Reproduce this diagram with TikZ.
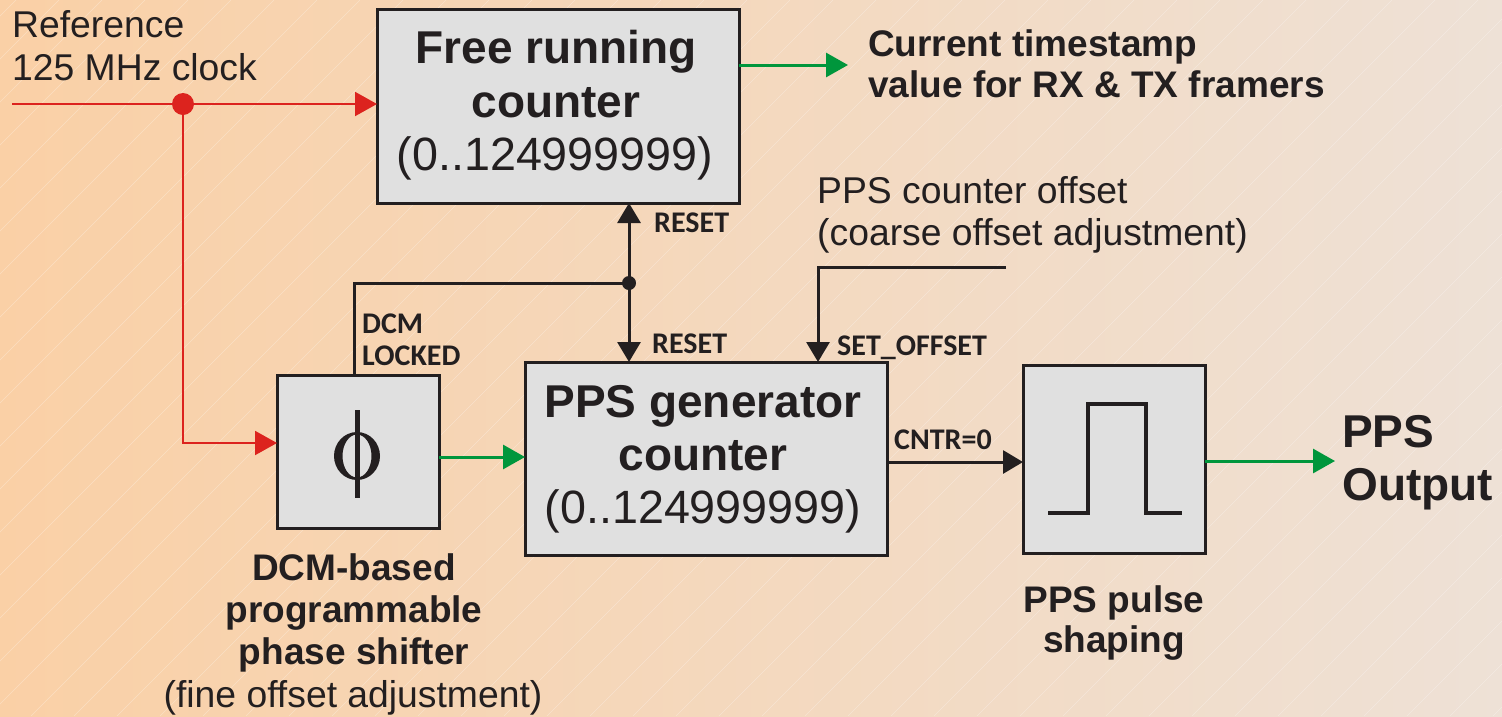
\documentclass[tikz,border=0pt]{standalone}
\usepackage{fontspec}
\setmainfont{Liberation Sans}
\newfontfamily\lblfont{Carlito}
\usetikzlibrary{arrows.meta}
\definecolor{bgL}{RGB}{250,208,166}
\definecolor{bgR}{RGB}{238,225,214}
\definecolor{ink}{RGB}{35,31,32}
\definecolor{sigred}{RGB}{220,35,30}
\definecolor{siggreen}{RGB}{0,150,60}
\definecolor{boxgray}{RGB}{224,224,224}
\begin{document}
\begin{tikzpicture}[x=1pt,y=-1pt,
 box/.style={draw=ink, line width=3pt, fill=boxgray, inner sep=0pt, outer sep=0pt},
 bigbold/.style={font=\fontsize{46}{54}\selectfont\bfseries, text=ink, inner sep=0pt, anchor=base},
 bignum/.style={font=\fontsize{46.7}{54}\selectfont, text=ink, inner sep=0pt, anchor=base},
 captxt/.style={font=\fontsize{37}{42}\selectfont\bfseries, text=ink, inner sep=0pt},
 plaintxt/.style={font=\fontsize{37.3}{42}\selectfont, text=ink, inner sep=0pt},
 outtxt/.style={font=\fontsize{46}{54}\selectfont\bfseries, text=ink, inner sep=0pt, anchor=base west},
 sig/.style={font=\lblfont\bfseries\fontsize{30}{32}\selectfont, text=ink, inner sep=0pt, anchor=base west},
 redw/.style={draw=sigred, line width=2pt},
 redarr/.style={redw, -{Triangle[length=22pt,width=24pt]}},
 grnarr/.style={draw=siggreen, line width=3pt, -{Triangle[length=22pt,width=24pt]}},
 blkw/.style={draw=ink, line width=3pt},
 blkarr/.style={blkw, -{Triangle[length=20pt,width=23pt]}},
]
% background
\shade[left color=bgL, right color=bgR] (0,0) rectangle (1502,716);
\useasboundingbox (0,0) rectangle (1502,716);
\begin{scope}
\clip (0,0) rectangle (1502,716);
\foreach \i in {-700,-657,...,1500}
  \draw[white, opacity=0.3, line width=0.6pt] (\i,716) -- ++(716,-716);
\end{scope}

% boxes
\node[box, minimum width=362pt, minimum height=194pt] (free) at (558,106) {};
\node[box, minimum width=162pt, minimum height=153pt] (phi) at (358,451.5) {};
\node[box, minimum width=362pt, minimum height=193pt] (gen) at (706,458.5) {};
\node[box, minimum width=182pt, minimum height=188pt] (pulse) at (1114,459) {};

% phi glyph
\fill[ink, even odd rule] (357,456) ellipse [x radius=23pt, y radius=24pt]
                          (357,456) ellipse [x radius=14.5pt, y radius=21.5pt];
\fill[ink] (354.5,410) rectangle (359.5,498);

% pulse glyph
\draw[ink, line width=4.5pt] (1048,513) -- (1088,513) -- (1088,404) -- (1146,404) -- (1146,513) -- (1182,513);

% box texts
\node[bigbold] (free1) at (556,63) {Free running};
\node[bigbold] (free2) at (556,117) {counter};
\node[bignum] (free3) at (555,170) {(0..124999999)};
\node[bigbold] (gen1) at (703,417) {PPS generator};
\node[bigbold] (gen2) at (703,470) {counter};
\node[bignum] (gen3) at (703,523) {(0..124999999)};

% red clock
\coordinate (start) at (12,104);
\node[circle, fill=sigred, minimum size=22pt, inner sep=0pt] (rdot) at (183,104) {};
\draw[redw] (start) -- (rdot.center);
\draw[redarr] (rdot.center) -- (rdot.center -| free.west);
\coordinate (rcorner) at (183,443);
\draw[redarr] (rdot.center) -- (rcorner) -- (rcorner -| phi.west);

% reset net
\node[circle, fill=ink, minimum size=14pt, inner sep=0pt] (jn) at (629,283) {};
\draw[blkarr] (jn.center) -- (jn.center |- free.south);
\draw[blkarr] (jn.center) -- (jn.center |- gen.north);
\coordinate (lk) at (354,283);
\draw[blkw] (jn.center) -- (lk) -- (lk |- phi.north);

% set offset
\coordinate (so1) at (1006,267);
\coordinate (so2) at (818,267);
\draw[blkarr] (so1) -- (so2) -- (so2 |- gen.north);

% cntr=0
\coordinate (cy) at (950,462);
\draw[blkarr] (gen.east |- cy) -- (pulse.west |- cy);

% green arrows
\coordinate (tsEnd) at (848,65);
\draw[grnarr] (free.east |- tsEnd) -- (tsEnd);
\coordinate (py) at (480,457);
\draw[grnarr] (phi.east |- py) -- (gen.west |- py);
\coordinate (outEnd) at (1335,461);
\draw[grnarr] (pulse.east |- outEnd) -- (outEnd);

% texts
\node[plaintxt, anchor=base west] (ref1) at (12,37) {Reference};
\node[plaintxt, anchor=base west] (ref2) at (12,80) {125 MHz clock};
\node[captxt, anchor=base west] (ts1) at (868,56) {Current timestamp};
\node[captxt, anchor=base west] (ts2) at (868,97) {value for RX \& TX framers};
\node[plaintxt, anchor=base west] (off1) at (817,203) {PPS counter offset};
\node[plaintxt, anchor=base west] (off2) at (817,245) {(coarse offset adjustment)};
\node[captxt, anchor=base] (dcm1) at (354,580) {DCM-based};
\node[captxt, anchor=base] (dcm2) at (354,622) {programmable};
\node[captxt, anchor=base] (dcm3) at (354,664) {phase shifter};
\node[plaintxt, anchor=base] (dcm4) at (353,707) {(fine offset adjustment)};
\node[captxt, anchor=base] (ps1) at (1114,612) {PPS pulse};
\node[captxt, anchor=base] (ps2) at (1114,652) {shaping};
\node[outtxt] (out1) at (1342,447) {PPS};
\node[outtxt] (out2) at (1342,500) {Output};

% signal labels
\node[sig] (rs1) at (654,232) {RESET};
\node[sig] (rs2) at (652,353) {RESET};
\node[sig] (lk1) at (362,333) {DCM};
\node[sig] (lk2) at (362,365) {LOCKED};
\node[sig] (sol) at (837,355) {SET\_OFFSET};
\node[sig] (cnl) at (894,449) {CNTR=0};
\end{tikzpicture}
\end{document}
